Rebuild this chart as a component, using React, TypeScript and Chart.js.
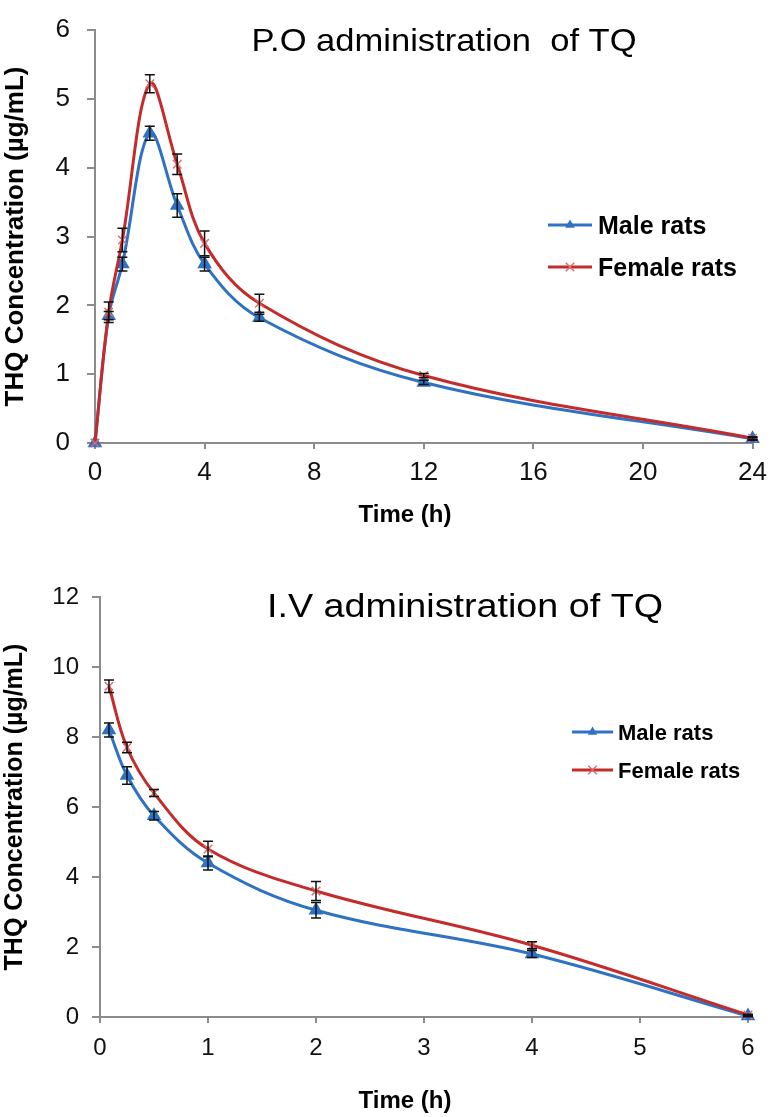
import React, { useEffect, useRef } from 'react';
import { Chart, registerables } from 'chart.js';

Chart.register(...registerables);

// ---------- DATA ----------
const poTimes = [0, 0.5, 1, 2, 3, 4, 6, 12, 24];
const poMale = [0, 1.85, 2.6, 4.5, 3.45, 2.6, 1.82, 0.88, 0.06];
const poMaleErr = [0, 0.06, 0.1, 0.1, 0.17, 0.1, 0.05, 0.03, 0.02];
const poFemale = [0, 1.9, 2.95, 5.22, 4.05, 2.9, 2.03, 0.98, 0.07];
const poFemaleErr = [0, 0.15, 0.17, 0.13, 0.15, 0.18, 0.13, 0.03, 0.02];
const poXTicks = [0, 4, 8, 12, 16, 20, 24];
const poYTicks = [0, 1, 2, 3, 4, 5, 6];

const ivTimes = [0.083, 0.25, 0.5, 1, 2, 4, 6];
const ivMale = [8.2, 6.9, 5.75, 4.4, 3.05, 1.8, 0.03];
const ivMaleErr = [0.2, 0.25, 0.12, 0.2, 0.22, 0.1, 0.02];
const ivFemale = [9.45, 7.7, 6.4, 4.8, 3.6, 2.05, 0.06];
const ivFemaleErr = [0.18, 0.15, 0.1, 0.22, 0.27, 0.1, 0.02];
const ivXTicks = [0, 1, 2, 3, 4, 5, 6];
const ivYTicks = [0, 2, 4, 6, 8, 10, 12];

const seriesLabels = ['Male rats', 'Female rats'];
const poTitle = 'P.O administration  of TQ';
const ivTitle = 'I.V administration of TQ';
const xTitleText = 'Time (h)';
const yTitleText = 'THQ Concentration (µg/mL)';

// ---------- STYLE ----------
const FONT = '"Liberation Sans", Arial, Helvetica, sans-serif';
const BLUE = '#2f72c4';
const RED = '#c42b2b';
const RED_MARK = '#e06a6a';
const AXIS = '#8c8c8c';
const TEXT = '#111';

function drawMarker(ctx: CanvasRenderingContext2D, style: string, x: number, y: number, r: number, color: string) {
  ctx.save();
  if (style === 'triangle') {
    ctx.fillStyle = color;
    ctx.beginPath();
    ctx.moveTo(x, y - r);
    ctx.lineTo(x - r * 0.866, y + r * 0.5);
    ctx.lineTo(x + r * 0.866, y + r * 0.5);
    ctx.closePath();
    ctx.fill();
  } else {
    ctx.strokeStyle = color;
    ctx.lineWidth = 1.5;
    const d = r * 0.7071;
    ctx.beginPath();
    ctx.moveTo(x - d, y - d);
    ctx.lineTo(x + d, y + d);
    ctx.moveTo(x + d, y - d);
    ctx.lineTo(x - d, y + d);
    ctx.stroke();
  }
  ctx.restore();
}

const errorBarPlugin = {
  id: 'errorBars',
  afterDatasetsDraw(chart: any) {
    const ctx = chart.ctx;
    const xs = chart.scales.x;
    const ys = chart.scales.y;
    ctx.save();
    ctx.strokeStyle = '#111';
    ctx.lineWidth = 1.5;
    chart.data.datasets.forEach((ds: any) => {
      const errs: number[] = ds.errors;
      if (!errs) return;
      ds.data.forEach((p: any, i: number) => {
        const e = errs[i];
        if (!e) return;
        const px = xs.getPixelForValue(p.x);
        const yt = ys.getPixelForValue(p.y + e);
        const yb = ys.getPixelForValue(p.y - e);
        ctx.beginPath();
        ctx.moveTo(px, yt);
        ctx.lineTo(px, yb);
        ctx.moveTo(px - 5, yt);
        ctx.lineTo(px + 5, yt);
        ctx.moveTo(px - 5, yb);
        ctx.lineTo(px + 5, yb);
        ctx.stroke();
      });
    });
    ctx.restore();
  },
};

const decorPlugin = {
  id: 'decor',
  afterDraw(chart: any, _args: any, opts: any) {
    const ctx: CanvasRenderingContext2D = chart.ctx;
    ctx.save();
    // title
    ctx.font = `${opts.titleSize}px ${FONT}`;
    ctx.fillStyle = '#000';
    ctx.textBaseline = 'alphabetic';
    ctx.textAlign = 'center';
    const w = ctx.measureText(opts.title).width;
    const sx = opts.titleWidth / w;
    ctx.save();
    ctx.translate(opts.titleX, opts.titleY);
    ctx.scale(sx, 1);
    ctx.fillText(opts.title, 0, 0);
    ctx.restore();

    // x axis title
    ctx.font = `bold ${opts.xTitleSize}px ${FONT}`;
    ctx.textBaseline = 'middle';
    ctx.textAlign = 'center';
    ctx.fillText(xTitleText, opts.xTitleX, opts.xTitleY);

    // legend
    ctx.font = `bold ${opts.legendSize}px ${FONT}`;
    ctx.textAlign = 'left';
    ctx.textBaseline = 'alphabetic';
    chart.data.datasets.forEach((ds: any, i: number) => {
      const ly = opts.legendY[i];
      ctx.strokeStyle = ds.borderColor;
      ctx.lineWidth = 3;
      ctx.beginPath();
      ctx.moveTo(opts.legendX0, ly);
      ctx.lineTo(opts.legendX1, ly);
      ctx.stroke();
      drawMarker(ctx, ds.pointStyle, (opts.legendX0 + opts.legendX1) / 2, ly, ds.pointRadius, ds.pointBorderColor || ds.borderColor);
      ctx.fillStyle = '#000';
      ctx.fillText(ds.label, opts.legendTextX, ly + opts.legendSize * 0.36);
    });
    ctx.restore();
  },
};

interface Spec {
  times: number[];
  male: number[];
  maleErr: number[];
  female: number[];
  femaleErr: number[];
  xTicks: number[];
  yTicks: number[];
  height: number;
  areaLeft: number;
  areaTop: number;
  areaRight: number;
  areaBottom: number;
  tickSize: number;
  xTickPad: number;
  yTickPad: number;
  yTitleSize: number;
  decor: any;
}

function makeConfig(s: Spec): any {
  const xMin = s.xTicks[0];
  const xMax = s.xTicks[s.xTicks.length - 1];
  const yMin = s.yTicks[0];
  const yMax = s.yTicks[s.yTicks.length - 1];
  return {
    type: 'line',
    data: {
      datasets: [
        {
          label: seriesLabels[0],
          data: s.times.map((t, i) => ({ x: t, y: s.male[i] })),
          errors: s.maleErr,
          borderColor: BLUE,
          backgroundColor: BLUE,
          pointBackgroundColor: BLUE,
          pointBorderColor: BLUE,
          borderWidth: 3,
          pointStyle: 'triangle',
          pointRadius: 5.5,
          tension: 0.36,
          clip: false,
          order: 1,
        },
        {
          label: seriesLabels[1],
          data: s.times.map((t, i) => ({ x: t, y: s.female[i] })),
          errors: s.femaleErr,
          borderColor: RED,
          backgroundColor: RED,
          pointBorderColor: RED_MARK,
          pointBorderWidth: 1.5,
          borderWidth: 3,
          pointStyle: 'crossRot',
          pointRadius: 6,
          tension: 0.36,
          clip: false,
          order: 0,
        },
      ],
    },
    options: {
      responsive: false,
      animation: false,
      devicePixelRatio: 1,
      layout: { padding: { top: s.areaTop, right: 778 - s.areaRight, left: 0, bottom: 0 } },
      plugins: {
        legend: { display: false },
        tooltip: { enabled: false },
        title: { display: false },
        decor: s.decor,
      },
      scales: {
        x: {
          type: 'linear',
          min: xMin,
          max: xMax,
          afterBuildTicks: (axis: any) => {
            axis.ticks = s.xTicks.map((v) => ({ value: v }));
          },
          afterFit: (axis: any) => {
            axis.height = s.height - s.areaBottom;
          },
          ticks: {
            color: TEXT,
            font: { family: FONT, size: s.tickSize, lineHeight: 1 },
            padding: s.xTickPad,
            maxRotation: 0,
          },
          grid: { drawOnChartArea: false, drawTicks: true, tickLength: 6, color: AXIS, lineWidth: 2 },
          border: { color: AXIS, width: 2 },
        },
        y: {
          type: 'linear',
          min: yMin,
          max: yMax,
          afterBuildTicks: (axis: any) => {
            axis.ticks = s.yTicks.map((v) => ({ value: v }));
          },
          afterFit: (axis: any) => {
            axis.width = s.areaLeft;
          },
          ticks: {
            color: TEXT,
            font: { family: FONT, size: s.tickSize, lineHeight: 1 },
            padding: s.yTickPad,
          },
          grid: { drawOnChartArea: false, drawTicks: true, tickLength: 8, color: AXIS, lineWidth: 2 },
          border: { color: AXIS, width: 2 },
          title: {
            display: true,
            text: yTitleText,
            color: '#000',
            font: { family: FONT, size: s.yTitleSize, weight: 'bold' },
            padding: 0,
          },
        },
      },
    },
    plugins: [errorBarPlugin, decorPlugin],
  };
}

const TOP_H = 540;
const BOT_H = 577;

export default function App() {
  const topRef = useRef<HTMLCanvasElement>(null);
  const botRef = useRef<HTMLCanvasElement>(null);

  useEffect(() => {
    const top = new Chart(
      topRef.current as HTMLCanvasElement,
      makeConfig({
        times: poTimes,
        male: poMale,
        maleErr: poMaleErr,
        female: poFemale,
        femaleErr: poFemaleErr,
        xTicks: poXTicks,
        yTicks: poYTicks,
        height: TOP_H,
        areaLeft: 95,
        areaTop: 13,
        areaRight: 762,
        areaBottom: 443,
        tickSize: 26,
        xTickPad: 11,
        yTickPad: 17,
        yTitleSize: 26,
        decor: {
          title: poTitle,
          titleSize: 32,
          titleX: 444,
          titleY: 51,
          titleWidth: 385,
          xTitleSize: 24,
          xTitleX: 405,
          xTitleY: 515,
          legendSize: 25,
          legendX0: 548,
          legendX1: 592,
          legendTextX: 598,
          legendY: [225, 267],
        },
      })
    );
    const bot = new Chart(
      botRef.current as HTMLCanvasElement,
      makeConfig({
        times: ivTimes,
        male: ivMale,
        maleErr: ivMaleErr,
        female: ivFemale,
        femaleErr: ivFemaleErr,
        xTicks: ivXTicks,
        yTicks: ivYTicks,
        height: BOT_H,
        areaLeft: 100,
        areaTop: 57,
        areaRight: 748,
        areaBottom: 477,
        tickSize: 24,
        xTickPad: 13,
        yTickPad: 13,
        yTitleSize: 25,
        decor: {
          title: ivTitle,
          titleSize: 33,
          titleX: 465,
          titleY: 77,
          titleWidth: 396,
          xTitleSize: 24,
          xTitleX: 405,
          xTitleY: 561,
          legendSize: 22,
          legendX0: 572,
          legendX1: 613,
          legendTextX: 618,
          legendY: [192, 230],
        },
      })
    );
    return () => {
      top.destroy();
      bot.destroy();
    };
  }, []);

  return (
    <div style={{ position: 'absolute', left: 0, top: 0, width: 778, height: 1117, background: '#fff' }}>
      <canvas ref={topRef} width={778} height={TOP_H} style={{ display: 'block' }} />
      <canvas ref={botRef} width={778} height={BOT_H} style={{ display: 'block' }} />
    </div>
  );
}
